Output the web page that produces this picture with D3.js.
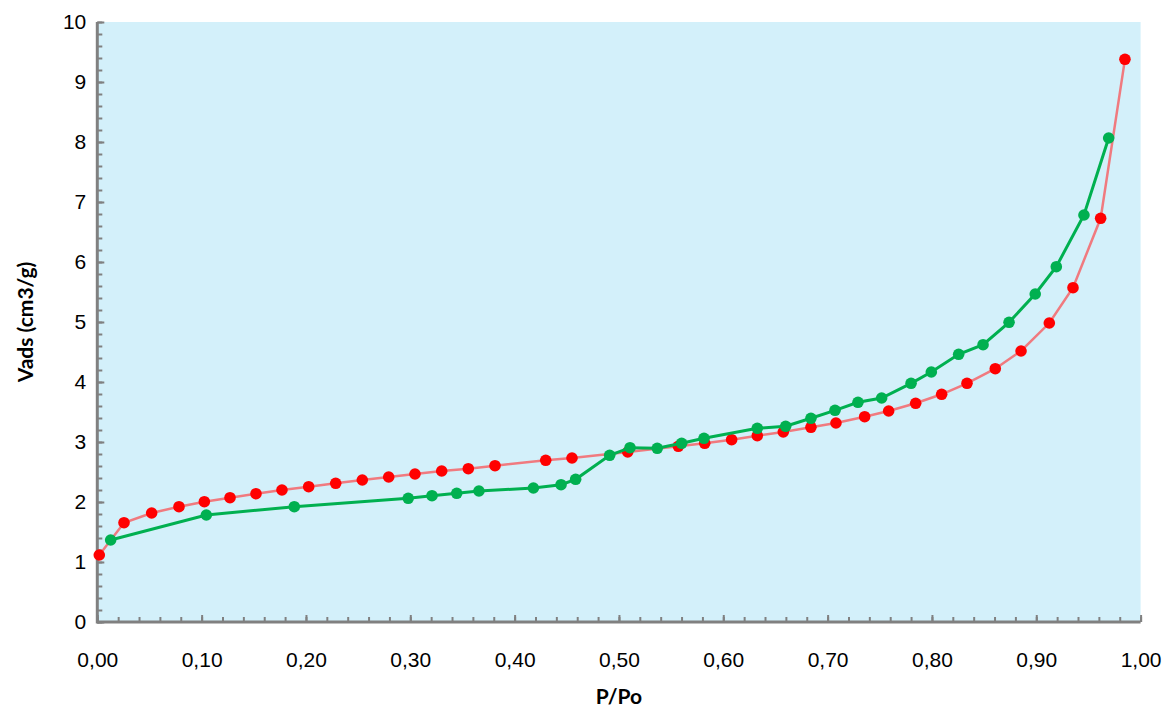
<!DOCTYPE html>
<html><head><meta charset="utf-8">
<script src="https://cdn.jsdelivr.net/npm/d3@7"></script>
<style>body{margin:0;background:#fff;}svg{display:block;font-family:Lato,"Open Sans",sans-serif;}</style>
</head><body><svg id="c" width="1169" height="711"></svg>
<script>
const adsX = [0.0019,0.0256,0.0521,0.0783,0.1026,0.1272,0.1521,0.1770,0.2026,0.2285,0.2540,0.2793,0.3045,0.3301,0.3556,0.3812,0.4298,0.4550,0.5084,0.5569,0.5822,0.6080,0.6326,0.6575,0.6840,0.7080,0.7355,0.7585,0.7844,0.8093,0.8336,0.8607,0.8854,0.9125,0.9352,0.9617,0.9850];
const adsY = [1.117,1.655,1.817,1.922,2.005,2.072,2.138,2.200,2.255,2.312,2.367,2.417,2.467,2.517,2.555,2.605,2.695,2.733,2.833,2.928,2.978,3.038,3.105,3.167,3.245,3.317,3.422,3.517,3.645,3.795,3.978,4.222,4.517,4.983,5.572,6.728,9.378];
const desX = [0.0128,0.1045,0.1888,0.2980,0.3208,0.3445,0.3658,0.4180,0.4445,0.4585,0.4911,0.5106,0.5367,0.5601,0.5815,0.6326,0.6598,0.6840,0.7071,0.7291,0.7518,0.7800,0.7994,0.8256,0.8490,0.8739,0.8990,0.9192,0.9457,0.9694];
const desY = [1.367,1.783,1.922,2.062,2.105,2.145,2.183,2.233,2.288,2.378,2.778,2.905,2.895,2.978,3.062,3.228,3.262,3.395,3.528,3.662,3.733,3.978,4.167,4.462,4.622,4.995,5.467,5.922,6.783,8.067];
const xTicks = [0,0.1,0.2,0.3,0.4,0.5,0.6,0.7,0.8,0.9,1.0];
const yTicks = [0,1,2,3,4,5,6,7,8,9,10];
const xLabel = "P/Po", yLabel = "Vads (cm3/g)";

const svg = d3.select("#c");
const L=97.3, R=1140.6, T=22, B=622;
const x = d3.scaleLinear().domain([0,1]).range([L,R]);
const y = d3.scaleLinear().domain([0,10]).range([B,T]);

svg.append("rect").attr("x",L).attr("y",T).attr("width",R-L).attr("height",B-T).attr("fill","#d3f0fa");

// axes
const fmt = d => d3.format(".2f")(d).replace(".",",");
const gx = svg.append("g").attr("transform",`translate(0,${B})`);
gx.call(d3.axisBottom(x).tickValues(d3.range(0,1.0001,0.02)).tickSize(-5).tickFormat(""));
gx.call(g=>g.selectAll(".tick line").attr("stroke","#808080").attr("stroke-width",2));
const gx2 = svg.append("g").attr("transform",`translate(0,${B})`);
gx2.call(d3.axisBottom(x).tickValues(xTicks).tickSize(-7).tickFormat(fmt));
gx2.selectAll(".tick line").attr("stroke","#808080").attr("stroke-width",2);
gx2.selectAll("text").attr("font-size",21).attr("fill","#000").attr("dy","0.35em").attr("y",38);
gx.select(".domain").remove(); gx2.select(".domain").remove();

const gy = svg.append("g").attr("transform",`translate(${L},0)`);
gy.call(d3.axisLeft(y).tickValues(d3.range(0,10.0001,0.2)).tickSize(-5).tickFormat(""));
gy.selectAll(".tick line").attr("stroke","#808080").attr("stroke-width",2);
gy.select(".domain").remove();
const gy2 = svg.append("g").attr("transform",`translate(${L},0)`);
gy2.call(d3.axisLeft(y).tickValues(yTicks).tickSize(-7).tickFormat(d3.format("d")));
gy2.selectAll(".tick line").attr("stroke","#808080").attr("stroke-width",2);
gy2.selectAll("text").attr("font-size",21).attr("fill","#000").attr("x",-11);
gy2.select(".domain").remove();

svg.append("line").attr("x1",L).attr("x2",R).attr("y1",B).attr("y2",B).attr("stroke","#808080").attr("stroke-width",3);
svg.append("line").attr("x1",L).attr("x2",L).attr("y1",T).attr("y2",B+1.5).attr("stroke","#808080").attr("stroke-width",3);

svg.append("text").attr("x",(L+R)/2).attr("y",704).attr("text-anchor","middle").attr("font-size",21).attr("font-weight","bold").text(xLabel);
svg.append("text").attr("transform",`translate(33,${(T+B)/2}) rotate(-90)`).attr("text-anchor","middle").attr("font-size",21).attr("font-weight","bold").text(yLabel);

const line = d3.line().x(d=>x(d[0])).y(d=>y(d[1]));
const ads = adsX.map((v,i)=>[v,adsY[i]]);
const des = desX.map((v,i)=>[v,desY[i]]);

svg.append("path").datum(ads).attr("d",line).attr("fill","none").attr("stroke","#f07a7f").attr("stroke-width",2.5);
svg.append("g").selectAll("circle").data(ads).join("circle").attr("cx",d=>x(d[0])).attr("cy",d=>y(d[1])).attr("r",5.8).attr("fill","#ff0000");
svg.append("path").datum(des).attr("d",line).attr("fill","none").attr("stroke","#00b050").attr("stroke-width",3);
svg.append("g").selectAll("circle").data(des).join("circle").attr("cx",d=>x(d[0])).attr("cy",d=>y(d[1])).attr("r",5.8).attr("fill","#00b050");
</script></body></html>
